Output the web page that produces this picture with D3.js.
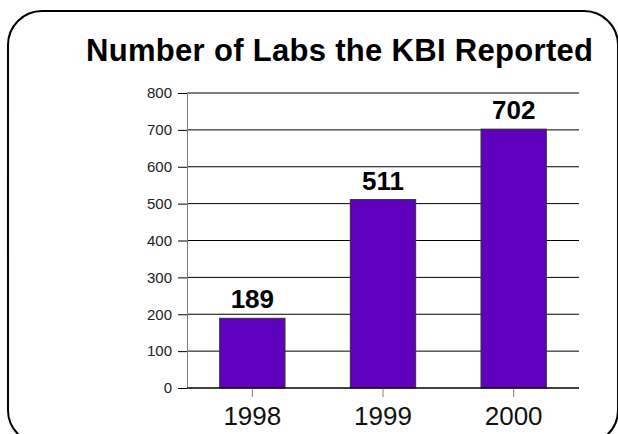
<!DOCTYPE html>
<html>
<head>
<meta charset="utf-8">
<script src="https://cdn.jsdelivr.net/npm/d3@7"></script>
<style>
  body { margin: 0; background: #fff; }
  text { font-family: Arial, "Liberation Sans", sans-serif; }
</style>
</head>
<body>
<svg id="chart" width="618" height="434"></svg>
<script>
const years = ["1998", "1999", "2000"];
const labs = [189, 511, 702];
const yTicks = [0, 100, 200, 300, 400, 500, 600, 700, 800];

const width = 618, height = 434;
const margin = {left: 187, right: 39, top: 93, bottom: 46};
const innerWidth = width - margin.left - margin.right;
const innerHeight = height - margin.top - margin.bottom;

const svg = d3.select("#chart");

// rounded frame (runs off the right and bottom edges)
svg.append("rect")
   .attr("x", 8).attr("y", 11)
   .attr("width", 610).attr("height", 433)
   .attr("rx", 34).attr("ry", 34)
   .attr("fill", "none")
   .attr("stroke", "#000")
   .attr("stroke-width", 2);

svg.append("text")
   .attr("x", 86).attr("y", 61)
   .attr("font-size", 31)
   .attr("font-weight", "bold")
   .attr("textLength", 507)
   .attr("lengthAdjust", "spacing")
   .text("Number of Labs the KBI Reported");

const g = svg.append("g")
             .attr("transform", `translate(${margin.left}, ${margin.top})`);

const xScale = d3.scaleBand()
                 .domain(years)
                 .range([0, innerWidth])
                 .paddingInner(0.5)
                 .paddingOuter(0.25);

const yScale = d3.scaleLinear()
                 .domain([0, 800])
                 .range([innerHeight, 0]);

// gridlines
g.selectAll(".grid")
 .data(yTicks)
 .enter()
 .append("line")
    .attr("x1", 0).attr("x2", innerWidth)
    .attr("y1", d => yScale(d)).attr("y2", d => yScale(d))
    .attr("stroke", "#000")
    .attr("stroke-width", 1);

// y axis
const yAxis = d3.axisLeft(yScale).tickValues(yTicks).tickSize(9).tickPadding(6);
const yG = g.append("g").call(yAxis);
yG.select(".domain").attr("stroke", "#808080");
yG.selectAll(".tick line").attr("stroke", "#000");
yG.selectAll(".tick text")
  .attr("font-size", 15)
  .attr("fill", "#222")
  .style("font-family", "Arial, 'Liberation Sans', sans-serif");

// bars
g.selectAll(".bar")
 .data(labs)
 .enter()
 .append("rect")
    .attr("x", (d, i) => xScale(years[i]))
    .attr("y", d => yScale(d))
    .attr("width", xScale.bandwidth())
    .attr("height", d => innerHeight - yScale(d))
    .attr("fill", "#5e00bd")
    .attr("stroke", "#333")
    .attr("stroke-width", 1);

// value labels
g.selectAll(".val")
 .data(labs)
 .enter()
 .append("text")
    .attr("x", (d, i) => xScale(years[i]) + xScale.bandwidth() / 2)
    .attr("y", d => yScale(d) - 10)
    .attr("text-anchor", "middle")
    .attr("font-size", 26)
    .attr("font-weight", "bold")
    .text(d => d);

// x axis
const xAxis = d3.axisBottom(xScale).tickSize(9).tickPadding(10);
const xG = g.append("g")
            .attr("transform", `translate(0, ${innerHeight})`)
            .call(xAxis);
xG.select(".domain").remove();
xG.selectAll(".tick line").attr("stroke", "#808080");
xG.selectAll(".tick text")
  .attr("font-size", 26)
  .attr("fill", "#111")
  .style("font-family", "Arial, 'Liberation Sans', sans-serif");

g.append("line")
 .attr("x1", 0).attr("x2", innerWidth)
 .attr("y1", innerHeight).attr("y2", innerHeight)
 .attr("stroke", "#000");
</script>
</body>
</html>
